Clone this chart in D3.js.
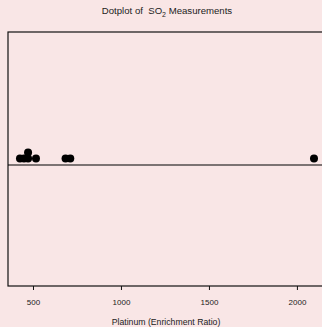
<!DOCTYPE html>
<meta charset="utf-8">
<style>
body { margin: 0; background: #f9e6e6; font-family: "Liberation Sans", Arial, sans-serif; }
svg { display: block; }
.tick text { font-size: 8px; fill: #222; }
.title { white-space: pre; }
</style>
<body>
<script src="https://d3js.org/d3.v7.min.js"></script>
<script>
// platinum values (enrichment ratio)
var values = [426, 449, 472, 472, 517, 685, 712, 2097];
var tickValues = [500, 1000, 1500, 2000];

var width = 322, height = 327;
var margin = {top: 32, left: 8, bottom: 286};

var svg = d3.select("body").append("svg")
    .attr("width", width)
    .attr("height", height);

var x = d3.scaleLinear()
    .domain([358, 2188])
    .range([margin.left, 330]);

var baseY = 165;

// plot box
svg.append("rect")
    .attr("x", margin.left)
    .attr("y", margin.top)
    .attr("width", 340)
    .attr("height", margin.bottom - margin.top)
    .attr("fill", "none")
    .attr("stroke", "#111")
    .attr("stroke-width", 1.2);

// centre line
svg.append("line")
    .attr("x1", margin.left).attr("x2", width)
    .attr("y1", baseY).attr("y2", baseY)
    .attr("stroke", "#000")
    .attr("stroke-width", 1.2);

// stack repeated values
var counts = {};
var pts = values.map(function (v) {
    counts[v] = (counts[v] || 0) + 1;
    return {v: v, level: counts[v] - 1};
});

svg.selectAll(".dot")
    .data(pts)
    .enter().append("circle")
    .attr("class", "dot")
    .attr("cx", function (d) { return x(d.v); })
    .attr("cy", function (d) { return baseY - 6.5 - d.level * 6; })
    .attr("r", 4)
    .attr("fill", "#000");

// x axis
var axis = svg.append("g")
    .attr("transform", "translate(0," + margin.bottom + ")")
    .call(d3.axisBottom(x).tickValues(tickValues).tickFormat(d3.format("d"))
        .tickSize(4).tickPadding(9));
axis.select(".domain").remove();
axis.selectAll(".tick line").attr("stroke", "#111");

svg.append("text")
    .attr("x", 166).attr("y", 325)
    .attr("text-anchor", "middle")
    .attr("font-size", 8.7)
    .attr("fill", "#222")
    .text("Platinum (Enrichment Ratio)");

var title = svg.append("text")
    .attr("class", "title")
    .attr("x", 167).attr("y", 14)
    .attr("text-anchor", "middle")
    .attr("font-size", 9.6)
    .attr("fill", "#222");
title.append("tspan").text("Dotplot of  SO");
title.append("tspan").attr("font-size", 7).attr("dy", 2.5).text("2");
title.append("tspan").attr("dy", -2.5).text(" Measurements");
</script>
</body>
